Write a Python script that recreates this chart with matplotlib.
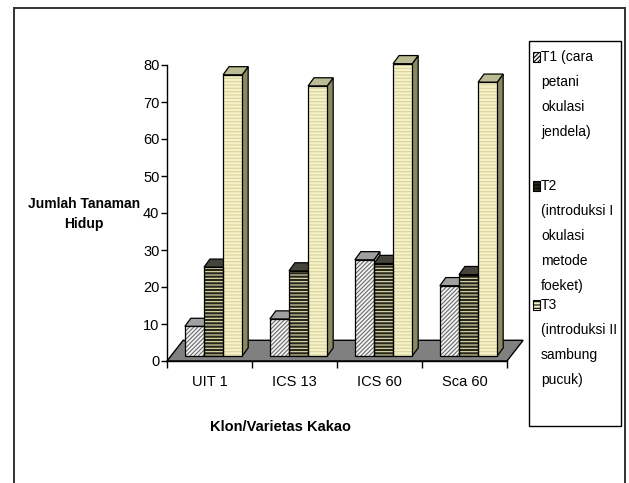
import matplotlib
matplotlib.use("Agg")
import matplotlib.pyplot as plt
from matplotlib.patches import Polygon, Rectangle
from matplotlib.lines import Line2D

plt.rcParams['font.family'] = ['Liberation Sans', 'DejaVu Sans']
plt.rcParams['hatch.linewidth'] = 0.8

categories = ["UIT 1", "ICS 13", "ICS 60", "Sca 60"]
t1 = [8, 10, 26, 19]
t2 = [24, 23, 25, 22]
t3 = [76, 73, 79, 74]
series_labels = [
    ["T1 (cara", "petani", "okulasi", "jendela)"],
    ["T2", "(introduksi I", "okulasi", "metode", "foeket)"],
    ["T3", "(introduksi II", "sambung", "pucuk)"],
]
yticks = [0, 10, 20, 30, 40, 50, 60, 70, 80]

# style for the fake 3d look: (face, hatch colour, hatch, side, top)
styles = [
    ("#f4f4f4", "#6a6a6a", "////////", "#c0c0c0", "#a0a0a0"),
    ("#26261a", "#e6e2b0", "-----", "#34342a", "#44443a"),
    ("#f6f2c6", "#d6d2a2", "-----", "#8a8a62", "#bcbc94"),
]

W, H = 629, 483
fig = plt.figure(figsize=(W / 100, H / 100), dpi=100)
ax = fig.add_axes([167 / W, (H - 361) / H, 340 / W, 296 / H])
ax.set_xlim(0, 4)
ax.set_ylim(0, 80)

# floor
fdx, fdy = 0.19, 5.6
floor = Polygon([(0, 0), (4, 0), (4 + fdx, fdy), (fdx, fdy)], closed=True,
                facecolor="#808080", edgecolor="black", lw=1, clip_on=False, zorder=1)
ax.add_patch(floor)

bw = 0.225
b0 = 1.35
ddx, ddy = 0.07, 2.2
offsets = [0.21, 0.435, 0.66]
data = [t1, t2, t3]

for i in range(len(categories)):
    for s in [2, 1, 0]:
        face, hc, hatch, side, top = styles[s]
        x0 = i + offsets[s]
        v = data[s][i]
        ytop = b0 + v
        z = 3 + s * 0.01
        # side
        ax.add_patch(Polygon([(x0 + bw, b0), (x0 + bw + ddx, b0 + ddy),
                              (x0 + bw + ddx, ytop + ddy), (x0 + bw, ytop)],
                             closed=True, facecolor=side, edgecolor="black",
                             lw=0.9, clip_on=False, zorder=z))
        # top
        ax.add_patch(Polygon([(x0, ytop), (x0 + bw, ytop), (x0 + bw + ddx, ytop + ddy),
                              (x0 + ddx, ytop + ddy)], closed=True, facecolor=top,
                             edgecolor="black", lw=0.9, clip_on=False, zorder=z))
    for s in range(3):
        face, hc, hatch, side, top = styles[s]
        x0 = i + offsets[s]
        v = data[s][i]
        ax.bar(x0, v, width=bw, bottom=b0, align="edge", color=face, edgecolor=hc,
               hatch=hatch, lw=0, clip_on=False, zorder=4)
        ax.bar(x0, v, width=bw, bottom=b0, align="edge", fill=False, edgecolor="black",
               lw=0.9, clip_on=False, zorder=4.1)

for sp in ["top", "right"]:
    ax.spines[sp].set_visible(False)
ax.spines["left"].set_linewidth(1)
ax.spines["bottom"].set_linewidth(1)
ax.spines["bottom"].set_zorder(5)
ax.set_yticks(yticks)
ax.tick_params(axis="y", direction="out", length=4, width=1, labelsize=10.5, pad=1.5)
ax.set_xticks([0, 1, 2, 3, 4])
ax.set_xticklabels([])
ax.tick_params(axis="x", direction="out", length=5, width=1)
ax.set_xticks([i + 0.5 for i in range(4)], minor=True)
ax.set_xticklabels(categories, minor=True, fontsize=10.5)
ax.tick_params(axis="x", which="minor", length=0, pad=10)

fig.text(84 / W, 1 - 214 / H, "Jumlah Tanaman\nHidup", ha="center", va="center",
         fontsize=10, fontweight="bold", linespacing=1.5)
fig.text(280 / W, 1 - 427 / H, "Klon/Varietas Kakao", ha="center", va="center",
         fontsize=10.5, fontweight="bold")

# outer frame
for xs, ys in [([14, 14], [483, 8]), ([14, 625], [8, 8]), ([625, 625], [8, 483])]:
    fig.add_artist(Line2D([x / W for x in xs], [1 - y / H for y in ys], color="#333333", lw=1.4))

# legend box
fig.add_artist(Rectangle((529 / W, 1 - 426 / H), 92 / W, 385 / H, transform=fig.transFigure,
                         facecolor="white", edgecolor="black", lw=1))
line_y = [[57, 82, 107, 132], [186, 211, 236, 261, 286], [305, 330, 355, 380]]
for s in range(3):
    face, hc, hatch, side, top = styles[s]
    yc = line_y[s][0]
    fig.add_artist(Rectangle((533 / W, 1 - (yc + 5) / H), 7 / W, 10 / H, transform=fig.transFigure,
                             facecolor=face, edgecolor="black", hatch=hatch, lw=0.8))
    for k, txt in enumerate(series_labels[s]):
        fig.text(541 / W, 1 - line_y[s][k] / H, txt, ha="left", va="center", fontsize=10)

fig.savefig("out.png", dpi=100)
